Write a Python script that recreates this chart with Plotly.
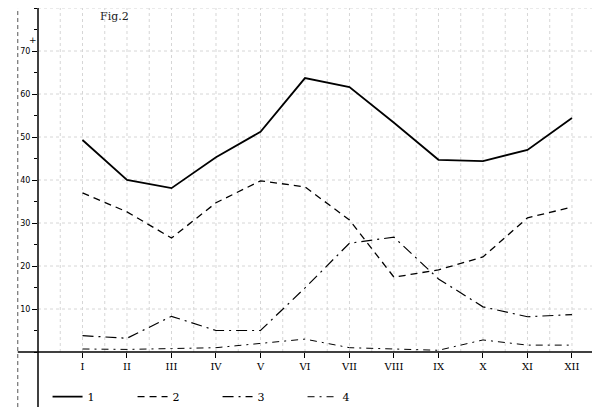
import plotly.graph_objects as go

months = ["I", "II", "III", "IV", "V", "VI", "VII", "VIII", "IX", "X", "XI", "XII"]
month_pos = list(range(1, 13))

series_1 = [49.3, 40.0, 38.1, 45.3, 51.2, 63.7, 61.6, 53.3, 44.7, 44.4, 47.0, 54.4]
series_2 = [37.0, 32.6, 26.5, 34.7, 39.8, 38.4, 30.7, 17.4, 19.1, 22.1, 31.2, 33.7]
series_3 = [3.8, 3.2, 8.3, 5.0, 5.0, 14.9, 25.3, 26.7, 17.0, 10.5, 8.2, 8.7]
series_4 = [0.7, 0.6, 0.8, 1.0, 2.0, 3.0, 1.0, 0.7, 0.4, 2.8, 1.6, 1.6]

y_ticks = [10, 20, 30, 40, 50, 60, 70]

styles = [
    ("1", series_1, "solid", 1.8),
    ("2", series_2, "7px,5px", 1.3),
    ("3", series_3, "11px,5px,2px,5px", 1.2),
    ("4", series_4, "7px,5px,2px,5px", 1.0),
]

fig = go.Figure()
for name, vals, dash, w in styles:
    fig.add_trace(go.Scatter(
        x=month_pos, y=vals, mode="lines", name=name,
        line=dict(color="black", width=w, dash=dash),
    ))

# graph-paper look
grid = dict(color="#d6d6d6", width=1, dash="dot")
for i in range(1, 26):
    fig.add_vline(x=i * 0.5, line=grid, layer="below")
for v in range(10, 81, 10):
    fig.add_hline(y=v, line=grid, layer="below")

# frame lines
fig.add_shape(type="line", xref="paper", yref="paper", x0=0, x1=0, y0=-0.16, y1=1,
              line=dict(color="black", width=1.5))
fig.add_shape(type="line", xref="paper", yref="paper", x0=-0.036, x1=-0.036, y0=-0.16, y1=1,
              line=dict(color="#555", width=1, dash="4px,3px"))
fig.add_shape(type="line", xref="paper", yref="paper", x0=-0.036, x1=1, y0=0, y1=0,
              line=dict(color="black", width=1.5))

fig.add_annotation(text="Fig.2", xref="paper", yref="paper", x=0.137, y=1.0,
                   xanchor="center", yanchor="top",
                   showarrow=False, font=dict(family="DejaVu Serif", size=11, color="#222"))
fig.add_annotation(text="+", xref="paper", yref="y", x=-0.02, y=72.6,
                   showarrow=False, font=dict(family="DejaVu Sans", size=9, color="#111"))

# page body has an 8px margin, so the figure is 8px smaller and shifted
fig.update_layout(
    width=592, height=406,
    margin=dict(l=30, r=0, t=0, b=62, autoexpand=False),
    paper_bgcolor="white", plot_bgcolor="white",
    font=dict(family="DejaVu Serif", color="black"),
    showlegend=True,
    legend=dict(orientation="h", x=0.017, y=-0.13, xanchor="left", yanchor="middle",
                entrywidth=40, entrywidthmode="pixels",
                font=dict(size=11, family="DejaVu Serif"), bgcolor="rgba(0,0,0,0)"),
    xaxis=dict(range=[0, 12.63], tickvals=month_pos, ticktext=months,
               ticks="outside", ticklen=5, tickcolor="black", automargin=False,
               showgrid=False, zeroline=False, showline=False,
               tickfont=dict(size=10, family="DejaVu Serif")),
    yaxis=dict(range=[0, 80.0], tickvals=y_ticks, automargin=False,
               ticks="outside", ticklen=5, tickcolor="black",
               minor=dict(dtick=5, ticks="outside", ticklen=3, tickcolor="black"),
               showgrid=False, zeroline=False, showline=False,
               tickfont=dict(size=8, family="DejaVu Sans")),
)

fig.write_html("out.html")
